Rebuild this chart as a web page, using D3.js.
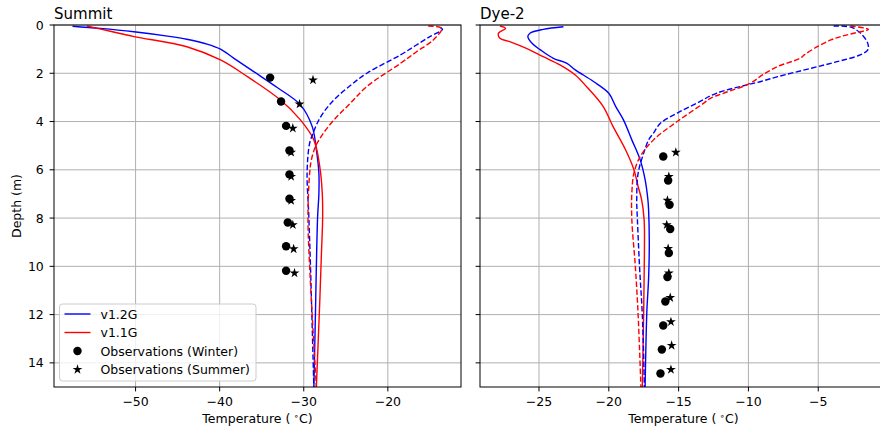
<!DOCTYPE html>
<html>
<head>
<meta charset="utf-8">
<script src="https://cdnjs.cloudflare.com/ajax/libs/d3/7.8.5/d3.min.js"></script>
<style>
body { margin: 0; background: #fff; }
text { font-family: "DejaVu Sans", sans-serif; fill: #000; }
</style>
</head>
<body>
<div id="chart"></div>
<script>
// ---- data ----
var depthTicks = [0, 2, 4, 6, 8, 10, 12, 14];
var depthRange = [0, 15];
var legendLabels = ["v1.2G", "v1.1G", "Observations (Winter)", "Observations (Summer)"];

// Summit model profiles (depth m, temperature C)
var summitV12WinterD = [0.05, 0.14, 0.28, 0.46, 0.59, 0.79, 1.0, 1.38, 1.93, 2.58, 3.31, 4.2, 5.17, 6.14, 7.0, 7.93, 10, 11.8, 15];
var summitV12WinterT = [-57.5, -54.2, -50.2, -46.2, -43.9, -41.5, -39.9, -38.3, -35.95, -33.2, -30.4, -29.0, -28.5, -28.2, -28.2, -28.35, -28.5, -28.6, -28.8];
var summitV11WinterD = [0.04, 0.26, 0.48, 0.9, 1.45, 2.14, 3.1, 3.93, 4.76, 5.86, 6.96, 7.93, 9.5, 11.5, 15];
var summitV11WinterT = [-55.8, -53.0, -50.2, -43.9, -39.9, -36.7, -32.8, -30.4, -28.8, -28.1, -27.8, -27.75, -27.9, -28.1, -28.5];
var summitV12SummerD = [0.1, 0.18, 0.48, 0.85, 1.24, 2.0, 2.52, 3.1, 3.6, 4.07, 4.5, 4.9, 6.1, 7.9, 10, 15];
var summitV12SummerT = [-13.85, -13.5, -15.0, -16.7, -18.5, -22.5, -24.5, -26.4, -27.6, -28.4, -28.9, -29.3, -29.6, -29.4, -29.2, -28.8];
var summitV11SummerD = [0.04, 0.14, 0.62, 1.1, 1.59, 2.55, 3.24, 3.93, 4.5, 5.03, 5.6, 6.14, 7.93, 10, 15];
var summitV11SummerT = [-15.2, -13.6, -14.6, -16.55, -18.5, -22.5, -24.45, -26.4, -27.7, -28.6, -29.1, -29.3, -29.5, -29.3, -28.5];

// Summit observations
var summitWinterD = [2.18, 3.17, 4.18, 5.2, 6.19, 7.2, 8.18, 9.17, 10.18];
var summitWinterT = [-34.0, -32.7, -32.1, -31.7, -31.7, -31.7, -31.9, -32.1, -32.1];
var summitSummerD = [2.28, 3.28, 4.28, 5.28, 6.28, 7.28, 8.28, 9.28, 10.28];
var summitSummerT = [-28.9, -30.5, -31.3, -31.5, -31.5, -31.5, -31.3, -31.2, -31.1];

// Dye-2 model profiles
var dyeV12WinterD = [0.07, 0.18, 0.34, 0.48, 0.76, 1.03, 1.38, 1.59, 1.86, 2.34, 2.83, 3.38, 3.93, 4.76, 5.59, 6.41, 7.24, 7.65, 9.0, 10.5, 11.8, 13.5, 15];
var dyeV12WinterT = [-23.25, -24.7, -25.65, -25.8, -25.5, -24.9, -23.97, -23.0, -22.4, -21.1, -20.0, -19.5, -18.95, -18.35, -17.75, -17.4, -17.2, -17.15, -17.1, -17.15, -17.27, -17.35, -17.4];
var dyeV11WinterD = [0.04, 0.14, 0.34, 0.55, 0.69, 0.97, 1.31, 1.65, 2.07, 2.55, 3.38, 4.2, 5.17, 6.0, 6.69, 7.24, 8.07, 9.5, 11.8, 15];
var dyeV11WinterT = [-27.8, -27.4, -27.9, -27.8, -27.1, -25.9, -24.7, -23.5, -22.4, -21.6, -20.4, -19.7, -18.8, -18.2, -17.9, -17.65, -17.47, -17.45, -17.5, -17.6];
var dyeV12SummerD = [0.04, 0.1, 0.41, 0.76, 1.03, 1.24, 1.52, 1.79, 2.14, 2.34, 2.48, 2.83, 3.24, 3.65, 4.07, 4.48, 4.76, 5.31, 6.14, 7.24, 8.07, 10, 12, 15];
var dyeV12SummerT = [-3.9, -2.6, -1.85, -1.45, -1.45, -2.0, -3.65, -5.5, -7.9, -9.1, -10.1, -12.3, -13.7, -15.1, -16.3, -16.8, -17.15, -17.5, -17.9, -18.0, -17.95, -17.8, -17.6, -17.45];
var dyeV11SummerD = [0.04, 0.18, 0.34, 0.48, 0.62, 0.9, 1.24, 1.38, 1.72, 2.07, 2.41, 2.83, 3.03, 3.24, 4.0, 4.76, 5.45, 6.14, 6.96, 8.07, 10, 12, 15];
var dyeV11SummerT = [-2.7, -1.4, -2.45, -3.4, -4.1, -5.07, -6.0, -6.3, -7.9, -9.0, -9.85, -11.8, -12.7, -13.2, -15.1, -16.8, -17.75, -18.2, -18.35, -18.35, -18.1, -17.9, -17.7];

// Dye-2 observations
var dyeWinterD = [5.45, 6.44, 7.45, 8.45, 9.45, 10.44, 11.46, 12.45, 13.45, 14.44];
var dyeWinterT = [-16.1, -15.75, -15.65, -15.6, -15.7, -15.8, -15.95, -16.1, -16.2, -16.3];
var dyeSummerD = [5.28, 6.28, 7.27, 8.28, 9.27, 10.28, 11.3, 12.3, 13.28, 14.28];
var dyeSummerT = [-15.2, -15.7, -15.8, -15.85, -15.75, -15.7, -15.6, -15.55, -15.5, -15.55];

// ---- layout ----
var W = 880, H = 429;
var plotTop = 25, plotBottom = 387;
var tickLen = 4.4;
var fontTick = 12.5;

var svg = d3.select("#chart").append("svg")
    .attr("width", W)
    .attr("height", H)
    .style("display", "block");

svg.append("rect").attr("width", W).attr("height", H).attr("fill", "#fff");

function zipProfile(ds, ts) {
    return ds.map(function(d, i) { return {d: d, t: ts[i]}; });
}

function drawPanel(opts) {
    var all = [];
    opts.lines.forEach(function(l) { all = all.concat(l.t); });
    opts.obs.forEach(function(o) { all = all.concat(o.t); });
    var ext = d3.extent(all);
    var pad = (ext[1] - ext[0]) * 0.05;

    var x = d3.scaleLinear().domain([ext[0] - pad, ext[1] + pad]).range([opts.x0, opts.x1]);
    var y = d3.scaleLinear().domain(depthRange).range([plotTop, plotBottom]);

    var g = svg.append("g");
    var xTicks = x.ticks(6);

    // grid
    g.append("g").selectAll("line").data(xTicks).enter().append("line")
        .attr("x1", function(d) { return x(d); })
        .attr("x2", function(d) { return x(d); })
        .attr("y1", plotTop).attr("y2", plotBottom)
        .attr("stroke", "#b0b0b0").attr("stroke-width", 1);
    g.append("g").selectAll("line").data(depthTicks).enter().append("line")
        .attr("x1", opts.x0).attr("x2", opts.x1)
        .attr("y1", function(d) { return y(d); })
        .attr("y2", function(d) { return y(d); })
        .attr("stroke", "#b0b0b0").attr("stroke-width", 1);

    svg.append("clipPath").attr("id", opts.id + "clip")
        .append("rect")
        .attr("x", opts.x0).attr("y", plotTop)
        .attr("width", opts.x1 - opts.x0).attr("height", plotBottom - plotTop);

    var line = d3.line()
        .x(function(p) { return x(p.t); })
        .y(function(p) { return y(p.d); })
        .curve(d3.curveCatmullRom.alpha(0.5));

    var plot = g.append("g").attr("clip-path", "url(#" + opts.id + "clip)");
    opts.lines.forEach(function(l) {
        plot.append("path")
            .datum(zipProfile(l.d, l.t))
            .attr("d", line)
            .attr("fill", "none")
            .attr("stroke", l.color)
            .attr("stroke-width", 1.4)
            .attr("stroke-dasharray", l.dashed ? "5.5,2.4" : null);
    });

    opts.obs.forEach(function(o) {
        plot.append("g").selectAll("path").data(zipProfile(o.d, o.t)).enter().append("path")
            .attr("transform", function(p) { return "translate(" + x(p.t) + "," + y(p.d) + ")"; })
            .attr("d", d3.symbol().type(o.star ? d3.symbolStar : d3.symbolCircle).size(o.star ? 30 : 56))
            .attr("fill", "#000");
    });

    // spines
    g.append("rect")
        .attr("x", opts.x0).attr("y", plotTop)
        .attr("width", opts.x1 - opts.x0).attr("height", plotBottom - plotTop)
        .attr("fill", "none").attr("stroke", "#000").attr("stroke-width", 1);

    // x axis ticks
    var xt = g.append("g").selectAll("g").data(xTicks).enter().append("g")
        .attr("transform", function(d) { return "translate(" + x(d) + "," + plotBottom + ")"; });
    xt.append("line").attr("y2", tickLen).attr("stroke", "#000").attr("stroke-width", 1);
    xt.append("text")
        .attr("y", 18.5)
        .attr("text-anchor", "middle")
        .style("font-size", fontTick + "px")
        .text(function(d) { return d3.format("d")(d); });

    // y axis ticks
    var yt = g.append("g").selectAll("g").data(depthTicks).enter().append("g")
        .attr("transform", function(d) { return "translate(" + opts.x0 + "," + y(d) + ")"; });
    yt.append("line").attr("x2", -tickLen).attr("stroke", "#000").attr("stroke-width", 1);
    if (opts.yLabels) {
        yt.append("text")
            .attr("x", -tickLen - 5.8)
            .attr("y", 4.5)
            .attr("text-anchor", "end")
            .style("font-size", fontTick + "px")
            .text(function(d) { return d; });
    }

    // title
    g.append("text")
        .attr("x", opts.x0)
        .attr("y", 18.5)
        .style("font-size", "15px")
        .text(opts.title);

    // x label
    var xl = g.append("text")
        .attr("x", (opts.x0 + opts.x1) / 2)
        .attr("y", 423)
        .attr("text-anchor", "middle")
        .style("font-size", fontTick + "px");
    xl.append("tspan").text("Temperature (");
    xl.append("tspan").attr("dx", 3).attr("dy", -4.5).style("font-size", "9px").text("\u2218");
    xl.append("tspan").attr("dy", 4.5).text("C)");

    return {x: x, y: y};
}

drawPanel({
    id: "summit",
    title: "Summit",
    x0: 54, x1: 461,
    yLabels: true,
    lines: [
        {d: summitV12WinterD, t: summitV12WinterT, color: "#0000ff"},
        {d: summitV11WinterD, t: summitV11WinterT, color: "#ff0000"},
        {d: summitV12SummerD, t: summitV12SummerT, color: "#0000ff", dashed: true},
        {d: summitV11SummerD, t: summitV11SummerT, color: "#ff0000", dashed: true}
    ],
    obs: [
        {d: summitWinterD, t: summitWinterT},
        {d: summitSummerD, t: summitSummerT, star: true}
    ]
});

drawPanel({
    id: "dye",
    title: "Dye-2",
    x0: 480, x1: 887,
    yLabels: false,
    lines: [
        {d: dyeV12WinterD, t: dyeV12WinterT, color: "#0000ff"},
        {d: dyeV11WinterD, t: dyeV11WinterT, color: "#ff0000"},
        {d: dyeV12SummerD, t: dyeV12SummerT, color: "#0000ff", dashed: true},
        {d: dyeV11SummerD, t: dyeV11SummerT, color: "#ff0000", dashed: true}
    ],
    obs: [
        {d: dyeWinterD, t: dyeWinterT},
        {d: dyeSummerD, t: dyeSummerT, star: true}
    ]
});

// y label
svg.append("text")
    .attr("transform", "translate(21," + ((plotTop + plotBottom) / 2) + ") rotate(-90)")
    .attr("text-anchor", "middle")
    .style("font-size", fontTick + "px")
    .text("Depth (m)");

// legend
var legend = svg.append("g").attr("transform", "translate(59.5,304)");
legend.append("rect")
    .attr("width", 196.5).attr("height", 77)
    .attr("rx", 3).attr("ry", 3)
    .attr("fill", "#fff").attr("fill-opacity", 0.8)
    .attr("stroke", "#cccccc").attr("stroke-width", 1);

var rows = legend.selectAll("g.row").data(legendLabels).enter().append("g")
    .attr("class", "row")
    .attr("transform", function(d, i) { return "translate(0," + (10 + i * 18.5) + ")"; });

rows.each(function(d, i) {
    var r = d3.select(this);
    if (i < 2) {
        r.append("line")
            .attr("x1", 5).attr("x2", 31)
            .attr("stroke", i == 0 ? "#0000ff" : "#ff0000")
            .attr("stroke-width", 1.4);
    } else {
        r.append("path")
            .attr("transform", "translate(18,0)")
            .attr("d", d3.symbol().type(i == 3 ? d3.symbolStar : d3.symbolCircle).size(i == 3 ? 30 : 56))
            .attr("fill", "#000");
    }
    r.append("text")
        .attr("x", 41)
        .attr("y", 4.5)
        .style("font-size", fontTick + "px")
        .text(d);
});
</script>
</body>
</html>
